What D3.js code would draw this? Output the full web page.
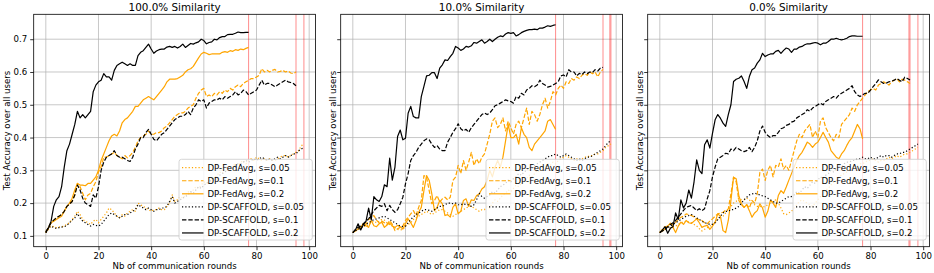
<!DOCTYPE html>
<html>
    <head>
        <meta charset="utf-8" />
        <script src="https://d3js.org/d3.v7.min.js"></script>
        <style>
            body {
                margin: 0;
                background-color: white;
            }
            svg {
                display: block;
                font-family: 'DejaVu Sans', sans-serif;
            }
        </style>
    </head>
    <body>
        <svg></svg>
        <script>
            const titles = ['100.0% Similarity', '10.0% Similarity', '0.0% Similarity']
            const seriesNames = [
                'DP-FedAvg, s=0.05',
                'DP-FedAvg, s=0.1',
                'DP-FedAvg, s=0.2',
                'DP-SCAFFOLD, s=0.05',
                'DP-SCAFFOLD, s=0.1',
                'DP-SCAFFOLD, s=0.2',
            ]
            const xTicks = [0, 20, 40, 60, 80, 100]
            const yTicks = [0.1, 0.2, 0.3, 0.4, 0.5, 0.6, 0.7]
            const xLabel = 'Nb of communication rounds'
            const yLabel = 'Test Accuracy over all users'

            // rounds where a run stopped (red markers)
            const redLines = [
                [77, 95, 98],
                [77, 95, 97.6, 98],
                [77, 94.6, 95, 98],
            ]

            // ---- 100% similarity ----
            const p1_fa005 = [
                0.11, 0.12, 0.13, 0.128, 0.125, 0.127, 0.128, 0.13, 0.135, 0.14,
                0.15, 0.16, 0.175, 0.165, 0.15, 0.145, 0.14, 0.135, 0.145, 0.15,
                0.14, 0.15, 0.16, 0.17, 0.185, 0.18, 0.17, 0.16, 0.155, 0.165,
                0.16, 0.17, 0.175, 0.18, 0.175, 0.2, 0.195, 0.19, 0.185, 0.18,
                0.175, 0.18, 0.18, 0.185, 0.18, 0.18, 0.19, 0.2, 0.225, 0.205,
                0.21, 0.22, 0.215, 0.225, 0.235, 0.23, 0.24, 0.25, 0.245, 0.255,
                0.265, 0.26, 0.27, 0.28, 0.275, 0.285, 0.295, 0.29, 0.3, 0.31,
                0.305, 0.315, 0.32, 0.315, 0.325, 0.33, 0.32, 0.33, 0.335, 0.33,
                0.34, 0.335, 0.33, 0.335, 0.33, 0.335, 0.33, 0.33, 0.335, 0.34,
                0.345, 0.345, 0.34, 0.345, 0.35, 0.355, 0.36, 0.375, 0.38,
            ]
            const p1_fa01 = [
                0.113, 0.125, 0.14, 0.148, 0.155, 0.16, 0.165, 0.175, 0.19, 0.197,
                0.205, 0.225, 0.26, 0.25, 0.23, 0.21, 0.225, 0.23, 0.25, 0.265,
                0.295, 0.31, 0.34, 0.34, 0.345, 0.35, 0.355, 0.345, 0.34, 0.335,
                0.345, 0.338, 0.345, 0.355, 0.37, 0.39, 0.4, 0.405, 0.41, 0.42,
                0.41, 0.41, 0.415, 0.415, 0.42, 0.43, 0.435, 0.445, 0.455, 0.465,
                0.47, 0.475, 0.475, 0.48, 0.49, 0.495, 0.5, 0.52, 0.535, 0.545,
                0.55, 0.525, 0.53, 0.525, 0.535, 0.53, 0.54, 0.535, 0.545, 0.54,
                0.55, 0.545, 0.555, 0.56, 0.555, 0.565, 0.57, 0.575, 0.58, 0.58,
                0.585, 0.59, 0.61, 0.6, 0.605, 0.6, 0.605, 0.608, 0.6, 0.602,
                0.605, 0.6, 0.603, 0.597, 0.595, 0.6,
            ]
            const p1_fa02 = [
                0.11, 0.125, 0.14, 0.145, 0.15, 0.155, 0.16, 0.175, 0.19, 0.2,
                0.215, 0.24, 0.26, 0.255, 0.255, 0.253, 0.26, 0.26, 0.27, 0.28,
                0.3, 0.33, 0.35, 0.37, 0.39, 0.405, 0.41, 0.405, 0.42, 0.445,
                0.455, 0.46, 0.47, 0.48, 0.495, 0.495, 0.505, 0.515, 0.52, 0.525,
                0.52, 0.515, 0.525, 0.535, 0.545, 0.555, 0.57, 0.578, 0.578, 0.578,
                0.58, 0.585, 0.59, 0.6, 0.607, 0.61, 0.617, 0.63, 0.643, 0.655,
                0.66, 0.657, 0.653, 0.655, 0.655, 0.655, 0.655, 0.66, 0.662, 0.66,
                0.665, 0.663, 0.668, 0.666, 0.67, 0.668, 0.672, 0.675,
            ]
            const p1_sc005 = [
                0.11, 0.125, 0.13, 0.125, 0.123, 0.125, 0.127, 0.128, 0.132, 0.14,
                0.148, 0.155, 0.168, 0.155, 0.145, 0.14, 0.135, 0.13, 0.135, 0.132,
                0.13, 0.135, 0.145, 0.155, 0.165, 0.17, 0.165, 0.16, 0.155, 0.16,
                0.165, 0.165, 0.17, 0.175, 0.18, 0.195, 0.19, 0.185, 0.18, 0.185,
                0.18, 0.175, 0.18, 0.18, 0.185, 0.185, 0.19, 0.205, 0.22, 0.2,
                0.205, 0.21, 0.215, 0.22, 0.225, 0.235, 0.23, 0.24, 0.25, 0.245,
                0.255, 0.26, 0.265, 0.27, 0.28, 0.275, 0.285, 0.29, 0.295, 0.3,
                0.31, 0.305, 0.315, 0.32, 0.32, 0.325, 0.33, 0.325, 0.33, 0.335,
                0.33, 0.335, 0.34, 0.335, 0.33, 0.335, 0.33, 0.335, 0.34, 0.335,
                0.34, 0.345, 0.34, 0.345, 0.35, 0.35, 0.36, 0.365, 0.37,
            ]
            const p1_sc01 = [
                0.113, 0.125, 0.14, 0.148, 0.155, 0.16, 0.165, 0.175, 0.19, 0.197,
                0.205, 0.225, 0.255, 0.24, 0.215, 0.2, 0.195, 0.19, 0.225, 0.215,
                0.25, 0.3, 0.325, 0.34, 0.345, 0.35, 0.36, 0.345, 0.34, 0.34,
                0.335, 0.33, 0.327, 0.34, 0.365, 0.38, 0.4, 0.4, 0.415, 0.425,
                0.41, 0.395, 0.39, 0.4, 0.41, 0.415, 0.425, 0.435, 0.445, 0.455,
                0.46, 0.465, 0.465, 0.47, 0.48, 0.47, 0.49, 0.5, 0.515, 0.51,
                0.515, 0.49, 0.505, 0.51, 0.515, 0.515, 0.52, 0.515, 0.525, 0.52,
                0.525, 0.53, 0.54, 0.53, 0.535, 0.545, 0.54, 0.53, 0.535, 0.54,
                0.545, 0.56, 0.575, 0.56, 0.565, 0.565, 0.56, 0.555, 0.56, 0.565,
                0.57, 0.575, 0.57, 0.568, 0.565, 0.558,
            ]
            const p1_sc02 = [
                0.11, 0.125, 0.145, 0.19, 0.21, 0.22, 0.25, 0.31, 0.36, 0.38,
                0.41, 0.44, 0.48, 0.46, 0.47, 0.46, 0.47, 0.48, 0.54, 0.56,
                0.57, 0.575, 0.595, 0.585, 0.585, 0.575, 0.605, 0.62, 0.625, 0.63,
                0.625, 0.62, 0.625, 0.62, 0.62, 0.65, 0.66, 0.665, 0.675, 0.685,
                0.67, 0.657, 0.664, 0.668, 0.67, 0.67, 0.676, 0.678, 0.675, 0.678,
                0.673, 0.678, 0.685, 0.675, 0.681, 0.687, 0.685, 0.689, 0.692, 0.7,
                0.696, 0.686, 0.69, 0.692, 0.7, 0.698, 0.705, 0.708, 0.708, 0.714,
                0.715, 0.715, 0.718, 0.722, 0.72, 0.72, 0.721, 0.721,
            ]

            // ---- 10% similarity ----
            const p2_fa005 = [
                0.11, 0.115, 0.12, 0.125, 0.13, 0.128, 0.135, 0.14, 0.145, 0.14,
                0.145, 0.15, 0.148, 0.14, 0.135, 0.13, 0.125, 0.12, 0.118, 0.12,
                0.13, 0.135, 0.14, 0.15, 0.155, 0.16, 0.165, 0.17, 0.175, 0.17,
                0.165, 0.17, 0.175, 0.18, 0.18, 0.175, 0.17, 0.165, 0.16, 0.165,
                0.17, 0.175, 0.18, 0.185, 0.19, 0.19, 0.185, 0.18, 0.175, 0.18,
                0.18, 0.19, 0.185, 0.2, 0.21, 0.205, 0.215, 0.225, 0.23, 0.24,
                0.235, 0.245, 0.255, 0.25, 0.26, 0.27, 0.275, 0.285, 0.28, 0.29,
                0.3, 0.295, 0.305, 0.31, 0.32, 0.315, 0.325, 0.32, 0.33, 0.335,
                0.34, 0.345, 0.34, 0.335, 0.33, 0.335, 0.33, 0.335, 0.34, 0.34,
                0.345, 0.345, 0.35, 0.35, 0.355, 0.36, 0.37, 0.375, 0.38,
            ]
            const p2_fa01 = [
                0.11, 0.118, 0.125, 0.12, 0.14, 0.135, 0.15, 0.157, 0.162, 0.148,
                0.14, 0.145, 0.14, 0.135, 0.147, 0.135, 0.116, 0.122, 0.126, 0.13,
                0.147, 0.157, 0.167, 0.177, 0.162, 0.187, 0.208, 0.284, 0.279, 0.238,
                0.198, 0.208, 0.223, 0.203, 0.213, 0.218, 0.21, 0.218, 0.269, 0.279,
                0.315, 0.29, 0.33, 0.3, 0.325, 0.355, 0.315, 0.335, 0.32, 0.34,
                0.35, 0.38, 0.41, 0.45, 0.46, 0.43, 0.44, 0.46, 0.42, 0.45,
                0.43, 0.41, 0.44, 0.45, 0.43, 0.46, 0.49, 0.44, 0.48, 0.47,
                0.45, 0.47, 0.5, 0.52, 0.49, 0.51, 0.54, 0.53, 0.55, 0.56,
                0.55, 0.57, 0.565, 0.58, 0.575, 0.585, 0.58, 0.59, 0.595, 0.59,
                0.6, 0.595, 0.6, 0.585, 0.6, 0.608,
            ]
            const p2_fa02 = [
                0.11, 0.115, 0.121, 0.127, 0.137, 0.131, 0.126, 0.147, 0.131, 0.128,
                0.137, 0.142, 0.126, 0.133, 0.14, 0.13, 0.126, 0.132, 0.128, 0.121,
                0.137, 0.152, 0.14, 0.126, 0.147, 0.172, 0.187, 0.238, 0.284, 0.269,
                0.228, 0.177, 0.187, 0.208, 0.198, 0.162, 0.165, 0.157, 0.187, 0.198,
                0.167, 0.175, 0.208, 0.213, 0.19, 0.21, 0.208, 0.223, 0.228, 0.243,
                0.25, 0.27, 0.3, 0.28, 0.31, 0.33, 0.31, 0.34, 0.39, 0.44,
                0.4, 0.4, 0.41, 0.38, 0.43, 0.41, 0.4, 0.37, 0.36, 0.38,
                0.39, 0.4, 0.41, 0.42, 0.45, 0.455, 0.44, 0.425,
            ]
            const p2_sc005 = [
                0.11, 0.115, 0.12, 0.125, 0.13, 0.135, 0.14, 0.145, 0.15, 0.152,
                0.155, 0.158, 0.16, 0.155, 0.15, 0.145, 0.14, 0.135, 0.13, 0.128,
                0.13, 0.14, 0.15, 0.158, 0.165, 0.17, 0.175, 0.18, 0.18, 0.178,
                0.175, 0.18, 0.185, 0.19, 0.19, 0.195, 0.2, 0.2, 0.198, 0.2,
                0.195, 0.195, 0.198, 0.195, 0.195, 0.19, 0.195, 0.21, 0.23, 0.22,
                0.215, 0.22, 0.225, 0.235, 0.23, 0.24, 0.25, 0.255, 0.26, 0.27,
                0.265, 0.275, 0.28, 0.29, 0.285, 0.295, 0.3, 0.31, 0.305, 0.315,
                0.32, 0.325, 0.33, 0.335, 0.34, 0.345, 0.345, 0.35, 0.345, 0.34,
                0.345, 0.35, 0.345, 0.34, 0.335, 0.33, 0.335, 0.33, 0.335, 0.34,
                0.34, 0.345, 0.35, 0.355, 0.36, 0.365, 0.375, 0.385, 0.39,
            ]
            const p2_sc01 = [
                0.11, 0.12, 0.126, 0.13, 0.137, 0.145, 0.152, 0.165, 0.177, 0.185,
                0.193, 0.19, 0.198, 0.177, 0.193, 0.18, 0.172, 0.18, 0.198, 0.218,
                0.259, 0.29, 0.33, 0.345, 0.355, 0.37, 0.38, 0.39, 0.396, 0.393,
                0.38, 0.37, 0.375, 0.365, 0.36, 0.36, 0.386, 0.4, 0.416, 0.427,
                0.442, 0.427, 0.42, 0.425, 0.416, 0.43, 0.44, 0.45, 0.46, 0.47,
                0.475, 0.47, 0.475, 0.485, 0.497, 0.5, 0.505, 0.51, 0.515, 0.512,
                0.51, 0.505, 0.525, 0.52, 0.535, 0.53, 0.545, 0.55, 0.558, 0.555,
                0.56, 0.575, 0.565, 0.56, 0.554, 0.556, 0.56, 0.565, 0.57, 0.588,
                0.591, 0.585, 0.607, 0.6, 0.6, 0.588, 0.596, 0.592, 0.6, 0.595,
                0.6, 0.598, 0.607, 0.603, 0.612, 0.614,
            ]
            const p2_sc02 = [
                0.11, 0.118, 0.137, 0.118, 0.134, 0.144, 0.185, 0.149, 0.22, 0.21,
                0.205, 0.22, 0.256, 0.25, 0.337, 0.27, 0.31, 0.403, 0.423, 0.393,
                0.398, 0.474, 0.495, 0.464, 0.46, 0.46, 0.525, 0.556, 0.588, 0.59,
                0.598, 0.598, 0.58, 0.612, 0.622, 0.637, 0.635, 0.647, 0.657, 0.678,
                0.673, 0.666, 0.67, 0.678, 0.676, 0.68, 0.69, 0.688, 0.693, 0.698,
                0.688, 0.693, 0.7, 0.693, 0.7, 0.706, 0.71, 0.708, 0.716, 0.72,
                0.718, 0.72, 0.71, 0.714, 0.72, 0.724, 0.727, 0.729, 0.729, 0.731,
                0.729, 0.734, 0.734, 0.737, 0.741, 0.739, 0.742, 0.744,
            ]

            // ---- 0% similarity ----
            const p3_fa005 = [
                0.11, 0.12, 0.13, 0.128, 0.125, 0.127, 0.13, 0.135, 0.14, 0.142,
                0.145, 0.142, 0.14, 0.135, 0.13, 0.122, 0.115, 0.12, 0.125, 0.13,
                0.135, 0.14, 0.15, 0.155, 0.16, 0.17, 0.18, 0.19, 0.2, 0.205,
                0.215, 0.21, 0.21, 0.215, 0.21, 0.2, 0.195, 0.19, 0.19, 0.188,
                0.19, 0.195, 0.2, 0.205, 0.21, 0.2, 0.185, 0.168, 0.165, 0.17,
                0.175, 0.185, 0.195, 0.205, 0.21, 0.205, 0.2, 0.195, 0.19, 0.2,
                0.21, 0.22, 0.23, 0.24, 0.245, 0.255, 0.265, 0.27, 0.28, 0.285,
                0.29, 0.295, 0.3, 0.305, 0.31, 0.315, 0.32, 0.32, 0.325, 0.33,
                0.33, 0.335, 0.33, 0.325, 0.33, 0.33, 0.335, 0.34, 0.335, 0.34,
                0.345, 0.34, 0.345, 0.35, 0.35, 0.355, 0.36, 0.365, 0.37,
            ]
            const p3_fa01 = [
                0.11, 0.12, 0.126, 0.13, 0.137, 0.135, 0.142, 0.15, 0.157, 0.16,
                0.167, 0.165, 0.162, 0.158, 0.152, 0.15, 0.147, 0.14, 0.137, 0.145,
                0.152, 0.16, 0.167, 0.17, 0.172, 0.178, 0.182, 0.228, 0.279, 0.265,
                0.208, 0.195, 0.187, 0.195, 0.185, 0.208, 0.2, 0.228, 0.294, 0.304,
                0.269, 0.3, 0.315, 0.28, 0.315, 0.31, 0.335, 0.304, 0.315, 0.3,
                0.33, 0.36, 0.39, 0.41, 0.4, 0.42, 0.43, 0.44, 0.4, 0.42,
                0.4, 0.45, 0.46, 0.43, 0.415, 0.4, 0.39, 0.41, 0.4, 0.44,
                0.45, 0.46, 0.47, 0.49, 0.48, 0.5, 0.51, 0.52, 0.53, 0.54,
                0.545, 0.55, 0.545, 0.56, 0.565, 0.57, 0.565, 0.56, 0.57, 0.575,
                0.58, 0.57, 0.578, 0.575, 0.57, 0.565,
            ]
            const p3_fa02 = [
                0.11, 0.115, 0.121, 0.13, 0.139, 0.126, 0.11, 0.13, 0.142, 0.135,
                0.147, 0.14, 0.138, 0.145, 0.152, 0.14, 0.126, 0.13, 0.132, 0.12,
                0.13, 0.142, 0.167, 0.16, 0.116, 0.11, 0.147, 0.208, 0.279, 0.274,
                0.223, 0.198, 0.187, 0.195, 0.177, 0.157, 0.17, 0.177, 0.198, 0.185,
                0.157, 0.175, 0.208, 0.2, 0.187, 0.223, 0.238, 0.23, 0.249, 0.27,
                0.29, 0.31, 0.33, 0.345, 0.355, 0.37, 0.386, 0.38, 0.37, 0.38,
                0.386, 0.4, 0.416, 0.4, 0.386, 0.36, 0.35, 0.34, 0.335, 0.35,
                0.36, 0.376, 0.39, 0.4, 0.42, 0.44, 0.427, 0.396,
            ]
            const p3_sc005 = [
                0.11, 0.115, 0.12, 0.125, 0.13, 0.135, 0.14, 0.145, 0.15, 0.155,
                0.16, 0.162, 0.165, 0.16, 0.155, 0.15, 0.145, 0.14, 0.138, 0.135,
                0.135, 0.14, 0.15, 0.16, 0.17, 0.175, 0.175, 0.18, 0.18, 0.185,
                0.19, 0.2, 0.21, 0.218, 0.225, 0.228, 0.23, 0.228, 0.225, 0.222,
                0.22, 0.215, 0.21, 0.205, 0.2, 0.2, 0.205, 0.21, 0.215, 0.22,
                0.22, 0.225, 0.235, 0.23, 0.24, 0.25, 0.245, 0.255, 0.265, 0.26,
                0.27, 0.28, 0.275, 0.285, 0.29, 0.3, 0.295, 0.305, 0.315, 0.31,
                0.32, 0.325, 0.325, 0.33, 0.33, 0.335, 0.335, 0.34, 0.335, 0.335,
                0.34, 0.335, 0.335, 0.34, 0.345, 0.34, 0.345, 0.345, 0.34, 0.345,
                0.35, 0.35, 0.355, 0.355, 0.36, 0.365, 0.37, 0.375, 0.38,
            ]
            const p3_sc01 = [
                0.11, 0.115, 0.12, 0.128, 0.135, 0.14, 0.147, 0.157, 0.167, 0.178,
                0.187, 0.19, 0.193, 0.185, 0.177, 0.183, 0.177, 0.183, 0.213, 0.238,
                0.28, 0.31, 0.335, 0.34, 0.345, 0.352, 0.35, 0.365, 0.36, 0.37,
                0.365, 0.36, 0.357, 0.36, 0.37, 0.357, 0.37, 0.39, 0.42, 0.435,
                0.416, 0.406, 0.4, 0.406, 0.406, 0.416, 0.427, 0.43, 0.437, 0.44,
                0.447, 0.45, 0.46, 0.465, 0.47, 0.475, 0.485, 0.48, 0.49, 0.495,
                0.5, 0.505, 0.5, 0.51, 0.515, 0.52, 0.525, 0.52, 0.53, 0.535,
                0.54, 0.545, 0.55, 0.558, 0.54, 0.53, 0.525, 0.53, 0.535, 0.535,
                0.545, 0.555, 0.565, 0.576, 0.57, 0.565, 0.566, 0.57, 0.572, 0.575,
                0.58, 0.575, 0.57, 0.584, 0.58, 0.576,
            ]
            const p3_sc02 = [
                0.11, 0.118, 0.128, 0.108, 0.123, 0.128, 0.17, 0.15, 0.21, 0.185,
                0.2, 0.24, 0.215, 0.265, 0.332, 0.3, 0.29, 0.378, 0.393, 0.368,
                0.413, 0.454, 0.47, 0.459, 0.444, 0.434, 0.47, 0.5, 0.571, 0.578,
                0.581, 0.588, 0.571, 0.55, 0.586, 0.607, 0.612, 0.627, 0.637, 0.657,
                0.647, 0.652, 0.655, 0.655, 0.663, 0.666, 0.657, 0.666, 0.673, 0.67,
                0.66, 0.67, 0.67, 0.676, 0.678, 0.683, 0.686, 0.686, 0.688, 0.69,
                0.688, 0.683, 0.688, 0.688, 0.693, 0.7, 0.7, 0.703, 0.7, 0.698,
                0.7, 0.703, 0.708, 0.71, 0.71, 0.709, 0.709, 0.709,
            ]

            const panels = [
                [p1_fa005, p1_fa01, p1_fa02, p1_sc005, p1_sc01, p1_sc02],
                [p2_fa005, p2_fa01, p2_fa02, p2_sc005, p2_sc01, p2_sc02],
                [p3_fa005, p3_fa01, p3_fa02, p3_sc005, p3_sc01, p3_sc02],
            ]

            const colors = ['orange', 'orange', 'orange', 'black', 'black', 'black']
            const dashes = ['1.2,2.1', '4.4,1.9', null, '1.2,2.1', '4.4,1.9', null]

            const width = 934
            const height = 273
            const panelLeft = [33.7, 340.7, 647.7]
            const plotTop = 14.3
            const pw = 281.8
            const ph = 232.4
            const fontSize = 8.6

            const svg = d3
                .select('svg')
                .attr('width', width)
                .attr('height', height)
                .attr('viewBox', [0, 0, width, height])

            svg.append('rect')
                .attr('width', width)
                .attr('height', height)
                .attr('fill', 'white')

            const x = d3.scaleLinear().domain([-4.6, 102.4]).range([0, pw])
            const y = d3.scaleLinear().domain([0.067, 0.776]).range([ph, 0])

            const line = d3
                .line()
                .x((d, i) => x(i))
                .y((d) => y(d))

            panels.forEach((series, p) => {
                const g = svg
                    .append('g')
                    .attr('transform', `translate(${panelLeft[p]},${plotTop})`)

                // grid
                g.selectAll('.gx')
                    .data(xTicks)
                    .enter()
                    .append('line')
                    .attr('x1', (d) => x(d))
                    .attr('x2', (d) => x(d))
                    .attr('y1', 0)
                    .attr('y2', ph)
                    .style('stroke', '#b0b0b0')
                    .style('stroke-opacity', 0.7)
                    .style('stroke-width', '1px')
                g.selectAll('.gy')
                    .data(yTicks)
                    .enter()
                    .append('line')
                    .attr('x1', 0)
                    .attr('x2', pw)
                    .attr('y1', (d) => y(d))
                    .attr('y2', (d) => y(d))
                    .style('stroke', '#b0b0b0')
                    .style('stroke-opacity', 0.7)
                    .style('stroke-width', '1px')

                // red markers
                g.selectAll('.red')
                    .data(redLines[p])
                    .enter()
                    .append('line')
                    .attr('x1', (d) => x(d))
                    .attr('x2', (d) => x(d))
                    .attr('y1', 0)
                    .attr('y2', ph)
                    .style('stroke', 'red')
                    .style('stroke-opacity', 0.45)
                    .style('stroke-width', '1px')

                // series
                series.forEach((values, s) => {
                    g.append('path')
                        .datum(values)
                        .attr('d', line)
                        .attr('fill', 'none')
                        .attr('stroke', colors[s])
                        .attr('stroke-width', 1.2)
                        .attr('stroke-dasharray', dashes[s])
                        .attr('stroke-linejoin', 'round')
                })

                // axes
                const xAxis = g
                    .append('g')
                    .attr('transform', `translate(0,${ph})`)
                    .call(
                        d3.axisBottom(x).tickValues(xTicks).tickSize(3.5).tickPadding(2.6)
                    )
                const yAxis = g.append('g').call(
                    d3
                        .axisLeft(y)
                        .tickValues(yTicks)
                        .tickSize(3.5)
                        .tickPadding(3)
                        .tickFormat(p === 0 ? d3.format('.1f') : '')
                )
                ;[xAxis, yAxis].forEach((a) => {
                    a.select('.domain').remove()
                    a.attr('font-family', 'DejaVu Sans')
                        .attr('font-size', fontSize)
                    a.selectAll('line').attr('stroke', '#000').attr('stroke-width', 0.8)
                    a.selectAll('text').attr('fill', '#000')
                })

                g.append('rect')
                    .attr('width', pw)
                    .attr('height', ph)
                    .attr('fill', 'none')
                    .attr('stroke', '#000')
                    .attr('stroke-width', 0.8)

                // legend
                const lgX = 145.3
                const lgY = 145
                const lg = g.append('g').attr('transform', `translate(${lgX},${lgY})`)
                lg.append('rect')
                    .attr('width', 133.3)
                    .attr('height', 80.7)
                    .attr('rx', 2.5)
                    .attr('fill', 'white')
                    .attr('fill-opacity', 0.8)
                    .attr('stroke', '#cccccc')
                    .attr('stroke-width', 0.8)
                seriesNames.forEach((name, s) => {
                    const cy = 8.4 + s * 13.05
                    lg.append('line')
                        .attr('x1', 3)
                        .attr('x2', 24.5)
                        .attr('y1', cy)
                        .attr('y2', cy)
                        .attr('stroke', colors[s])
                        .attr('stroke-width', 1.2)
                        .attr('stroke-dasharray', dashes[s])
                    lg.append('text')
                        .attr('x', 28.5)
                        .attr('y', cy + 3.1)
                        .attr('font-size', fontSize)
                        .text(name)
                })

                // title and labels
                g.append('text')
                    .attr('x', pw / 2)
                    .attr('y', -3.8)
                    .attr('text-anchor', 'middle')
                    .attr('font-size', 10.4)
                    .text(titles[p])
                g.append('text')
                    .attr('x', pw / 2)
                    .attr('y', ph + 22.6)
                    .attr('text-anchor', 'middle')
                    .attr('font-size', fontSize)
                    .text(xLabel)
                const yLabelX = p === 0 ? -24.2 : -5
                g.append('text')
                    .attr('transform', `translate(${yLabelX},${ph / 2}) rotate(-90)`)
                    .attr('text-anchor', 'middle')
                    .attr('font-size', fontSize)
                    .text(yLabel)
            })
        </script>
    </body>
</html>
